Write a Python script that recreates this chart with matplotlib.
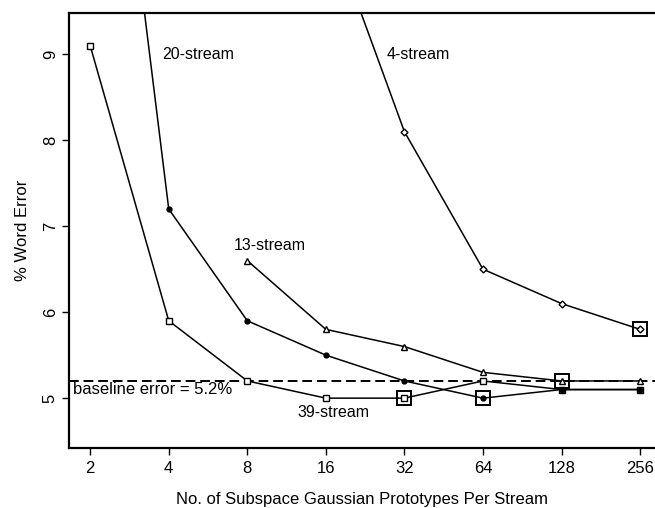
import matplotlib
matplotlib.use("Agg")
import matplotlib.pyplot as plt
import numpy as np

plt.rcParams['font.family'] = ['Liberation Sans', 'DejaVu Sans']

# Prototypes per stream (x) and % word error for each stream configuration
prototypes = [2, 4, 8, 16, 32, 64, 128, 256]
err_39 = [9.1, 5.9, 5.2, 5.0, 5.0, 5.2, 5.1, 5.1]
err_20 = [14.6, 7.2, 5.9, 5.5, 5.2, 5.0, 5.1, 5.1]
proto_13 = [8, 16, 32, 64, 128, 256]
err_13 = [6.6, 5.8, 5.6, 5.3, 5.2, 5.2]
proto_4 = [16, 32, 64, 128, 256]
err_4 = [10.6, 8.1, 6.5, 6.1, 5.8]
baseline = 5.2

# Best configuration of each stream count (boxed points)
best_x = [32, 64, 128, 256]
best_y = [5.0, 5.0, 5.2, 5.8]

tick_labels = ['2', '4', '8', '16', '32', '64', '128', '256']
y_ticks = [5, 6, 7, 8, 9]

fig = plt.figure(figsize=(6.55, 5.08), dpi=100)
ax = fig.add_axes([0.1053, 0.1181, 0.8947, 0.8563])

lw = 1.1
ax.plot(prototypes, err_39, color='black', lw=lw, marker='s', ms=4,
        mfc='white', mec='black', mew=1.0, zorder=3)
ax.plot(prototypes, err_20, color='black', lw=lw, marker='o', ms=3.5,
        mfc='black', mec='black', zorder=3)
ax.plot(proto_13, err_13, color='black', lw=lw, marker='^', ms=4,
        mfc='white', mec='black', mew=1.0, zorder=3)
ax.plot(proto_4, err_4, color='black', lw=lw, marker='D', ms=3.5,
        mfc='white', mec='black', mew=1.0, zorder=3)

ax.plot(best_x, best_y, ls='none', marker='s', ms=10, mfc='none',
        mec='black', mew=1.4, zorder=4)

ax.axhline(baseline, color='black', lw=1.4, ls=(0, (5, 2.5)), zorder=2)

ax.set_xscale('log', base=2)
ax.set_xlim(2 ** 0.73, 2 ** 8.19)
ax.set_ylim(4.42, 9.48)
ax.set_xticks(prototypes)
ax.set_xticklabels(tick_labels)
ax.minorticks_off()
ax.set_yticks(y_ticks)
ax.set_yticklabels([str(v) for v in y_ticks], rotation=90, va='center')

ax.tick_params(axis='both', direction='out', length=5, width=1.0,
               labelsize=12, colors='black')
ax.tick_params(axis='x', pad=4)
ax.tick_params(axis='y', pad=3)
for s in ax.spines.values():
    s.set_linewidth(1.6)
ax.spines['right'].set_visible(False)

ax.set_xlabel('No. of Subspace Gaussian Prototypes Per Stream', fontsize=12,
              labelpad=12)
ax.set_ylabel('% Word Error', fontsize=12, labelpad=9)

ax.text(2 ** 1.92, 9.0, '20-stream', fontsize=11.5, va='center', ha='left')
ax.text(2 ** 4.78, 9.0, '4-stream', fontsize=11.5, va='center', ha='left')
ax.text(2 ** 2.83, 6.78, '13-stream', fontsize=11.5, va='center', ha='left')
ax.text(2 ** 4.1, 4.83, '39-stream', fontsize=11.5, va='center', ha='center')
ax.text(2 ** 0.78, 5.1, 'baseline error = 5.2%', fontsize=12,
        va='center', ha='left')

fig.savefig('out.png', dpi=100)
